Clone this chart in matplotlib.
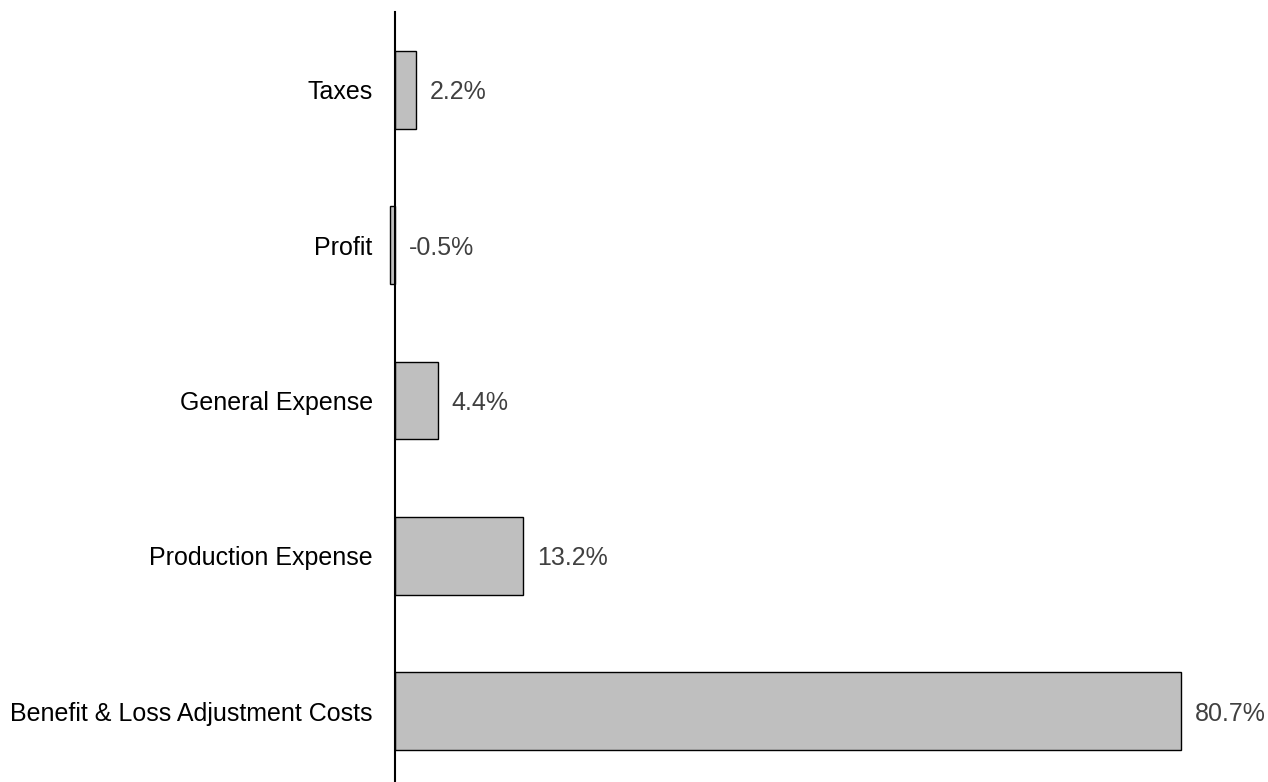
import matplotlib.pyplot as plt

categories = ['Benefit & Loss Adjustment Costs', 'Production Expense',
              'General Expense', 'Profit', 'Taxes']
values = [80.7, 13.2, 4.4, -0.5, 2.2]

plt.rcParams['font.family'] = ['Liberation Sans', 'DejaVu Sans']


def main():
    fig = plt.figure(figsize=(12.68, 7.82), dpi=100)
    ax = fig.add_axes([390 / 1268, 0, (1181 - 390) / 1268, 1 - 12 / 782])

    pos = list(range(len(categories)))
    bars = ax.barh(pos, values, height=0.5, color='#bfbfbf', edgecolor='black',
                   linewidth=1.0)
    for b in bars:
        b.set_clip_on(False)
    for y, v in zip(pos, values):
        x = max(v, 0) + 1.4
        ax.text(x, y, f'{v:.1f}%', va='center_baseline', ha='left',
                fontsize=18, color='#404040')

    ax.set_xlim(-0.5, 80.7)
    ax.set_ylim(-0.457, 4.5)
    for s in ['top', 'right', 'bottom']:
        ax.spines[s].set_visible(False)
    ax.spines['left'].set_position(('data', 0))
    ax.spines['left'].set_linewidth(1.5)

    ax.set_xticks([])
    ax.set_yticks(pos)
    ax.set_yticklabels(categories, fontsize=18, color='black')
    ax.tick_params(axis='y', length=0, pad=16)

    fig.savefig('out.png', dpi=100)


if __name__ == '__main__':
    main()
